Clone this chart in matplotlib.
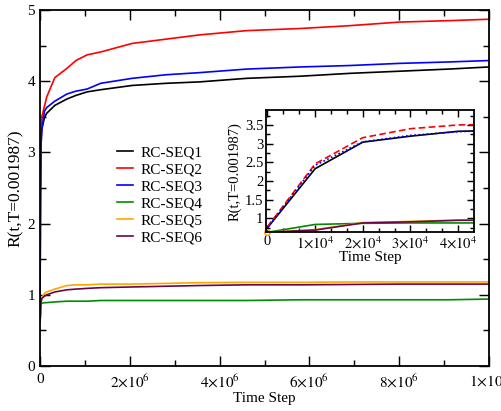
import matplotlib
matplotlib.use("Agg")
import matplotlib.pyplot as plt
from matplotlib.ticker import MultipleLocator, FixedLocator, FuncFormatter

plt.rcParams['font.family'] = ['Liberation Serif', 'DejaVu Serif']
plt.rcParams['mathtext.fontset'] = 'stix'

# time steps shared by all series
t = [0, 1e4, 2e4, 3e4, 4e4, 1e5, 1.5e5, 3.3e5, 6e5, 8e5, 1.05e6, 1.35e6, 2.05e6,
     2.8e6, 3.55e6, 4.6e6, 5.8e6, 6.9e6, 8e6, 9.1e6, 1e7]

seq1 = [0.75, 2.33, 3.04, 3.20, 3.33, 3.49, 3.55, 3.66, 3.75, 3.80, 3.85, 3.88, 3.94,
        3.97, 3.99, 4.04, 4.07, 4.11, 4.14, 4.17, 4.20]
seq2 = [0.78, 2.46, 3.16, 3.40, 3.50, 3.65, 3.78, 4.05, 4.18, 4.29, 4.37, 4.41, 4.53,
        4.59, 4.65, 4.71, 4.74, 4.78, 4.83, 4.85, 4.87]
seq3 = [0.76, 2.42, 3.05, 3.22, 3.32, 3.58, 3.63, 3.72, 3.82, 3.86, 3.89, 3.97, 4.04,
        4.09, 4.12, 4.17, 4.20, 4.22, 4.25, 4.27, 4.29]
seq4 = [0.63, 0.84, 0.87, 0.88, 0.88, 0.89, 0.89, 0.90, 0.91, 0.91, 0.91, 0.92, 0.92,
        0.92, 0.92, 0.92, 0.93, 0.93, 0.93, 0.93, 0.94]
seq5 = [0.63, 0.70, 0.89, 0.92, 0.96, 1.02, 1.04, 1.08, 1.13, 1.14, 1.14, 1.15, 1.15,
        1.16, 1.17, 1.175, 1.175, 1.18, 1.18, 1.18, 1.18]
seq6 = [0.63, 0.69, 0.88, 0.91, 0.95, 0.98, 1.00, 1.04, 1.07, 1.08, 1.09, 1.10, 1.11,
        1.12, 1.13, 1.14, 1.14, 1.145, 1.15, 1.15, 1.15]

labels = ['RC-SEQ1', 'RC-SEQ2', 'RC-SEQ3', 'RC-SEQ4', 'RC-SEQ5', 'RC-SEQ6']
colors = ['black', '#ff0000', '#0000ff', '#008b00', '#ffa500', '#670748']
series = [seq1, seq2, seq3, seq4, seq5, seq6]


def sci(v, pos):
    if v == 0:
        return '0'
    e = len(str(int(v))) - 1
    m = int(round(v / 10 ** e))
    return r'$%d{\times}10^{%d}$' % (m, e)


def style_axes(ax, lw, maj, mnr):
    for s in ax.spines.values():
        s.set_linewidth(lw)
    ax.tick_params(which='both', direction='in', top=True, right=True, width=lw * 0.8)
    ax.tick_params(which='major', length=maj)
    ax.tick_params(which='minor', length=mnr)


fig = plt.figure(figsize=(5.02, 4.11), dpi=100)
ax = fig.add_axes([0.0797, 0.1095, 0.8945, 0.8662])

for y, c, lab in zip(series, colors, labels):
    ax.plot(t, y, color=c, lw=1.2, label=lab)

ax.set_xlim(0, 1e7)
ax.set_ylim(0, 5)
ax.xaxis.set_major_locator(MultipleLocator(2e6))
ax.xaxis.set_minor_locator(MultipleLocator(1e6))
ax.xaxis.set_major_formatter(FuncFormatter(sci))
ax.yaxis.set_major_locator(MultipleLocator(1))
ax.yaxis.set_minor_locator(MultipleLocator(0.5))
style_axes(ax, 1.3, 7, 4)
ax.tick_params(labelsize=11)
ax.tick_params(axis='x', pad=5)
ax.set_xlabel('Time Step', fontsize=11, labelpad=1)
ax.set_ylabel('R(t,T=0.001987)', fontsize=12.5, labelpad=3)

ax.legend(loc='upper left', bbox_to_anchor=(0.155, 0.64), frameon=False, fontsize=11,
          handlelength=1.0, handletextpad=0.55, labelspacing=0.22, borderpad=0)

# inset
ins = fig.add_axes([0.530, 0.4348, 0.414, 0.2976])
n = 5
ins.plot(t[:n + 1], seq1[:n + 1], color='black', lw=1.2)
ins.plot(t[:n + 1], seq2[:n + 1], color='#ff0000', lw=1.2, ls=(0, (4, 2)))
ins.plot(t[:n + 1], seq3[:n + 1], color='#0000ff', lw=1.2, ls=(0, (1, 1.5)))
ins.plot(t[:n + 1], seq4[:n + 1], color='#008b00', lw=1.2)
ins.plot(t[:n + 1], seq5[:n + 1], color='#ffa500', lw=1.2)
ins.plot(t[:n + 1], seq6[:n + 1], color='#670748', lw=1.2)
ins.plot(t[0], seq5[0], 'o', ms=4, mfc='none', mec='#ffa500', mew=1, clip_on=False)
ins.set_xlim(-300, 43300)
ins.set_ylim(0.63, 3.9)
ins.xaxis.set_major_locator(MultipleLocator(1e4))
ins.xaxis.set_minor_locator(MultipleLocator(1e4 / 3))
ins.xaxis.set_major_formatter(FuncFormatter(sci))
ins.yaxis.set_major_locator(FixedLocator([1, 1.5, 2, 2.5, 3, 3.5]))
ins.yaxis.set_minor_locator(MultipleLocator(0.25))
ins.yaxis.set_major_formatter(FuncFormatter(lambda v, p: '%g' % v))
style_axes(ins, 1.3, 5, 3)
ins.tick_params(labelsize=10.5, pad=2)
ins.set_xlabel('Time Step', fontsize=11, labelpad=0)
ins.set_ylabel('R(t,T=0.001987)', fontsize=10.5, labelpad=2)

fig.savefig('out.png', dpi=100)
